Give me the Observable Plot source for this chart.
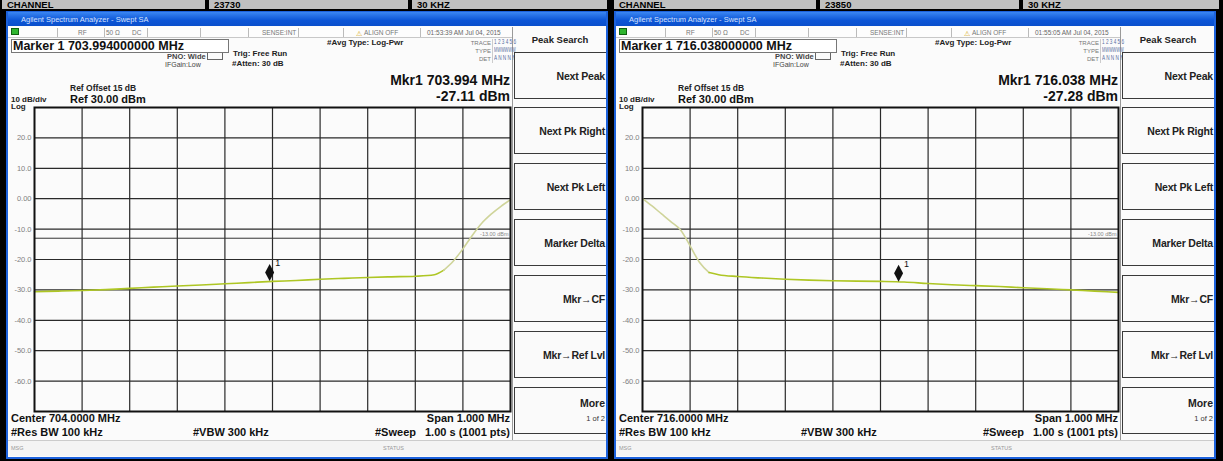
<!DOCTYPE html>
<html><head><meta charset="utf-8">
<script src="https://cdn.jsdelivr.net/npm/d3@7"></script>
<script src="https://cdn.jsdelivr.net/npm/@observablehq/plot@0.6"></script>
<style>
html,body{margin:0;padding:0;background:#000;}
#root{position:relative;width:1223px;height:461px;overflow:hidden;background:#000;font-family:'Liberation Sans',Arial,sans-serif;}
#root div{box-sizing:border-box;}
svg.plot, figure{margin:0;}
</style>
</head><body><div id="root"></div>
<script>
// ---------------- DATA ----------------
const headerCells = ["CHANNEL", "23730", "30 KHZ", "CHANNEL", "23850", "30 KHZ"];

const yTicks = [20, 10, 0, -10, -20, -30, -40, -50, -60];
const yTickLabels = ["20.0", "10.0", "0.00", "-10.0", "-20.0", "-30.0", "-40.0", "-50.0", "-60.0"];
const displayLine = -13;
const displayLineLabel = "-13.00 dBm";

// Left screen trace (MHz, dBm)
const leftFreq  = [703.50, 703.55, 703.60, 703.65, 703.70, 703.75, 703.80, 703.85, 703.90, 703.95, 704.00, 704.05, 704.10, 704.15, 704.20, 704.25, 704.30, 704.34, 704.36, 704.38, 704.40, 704.42, 704.44, 704.46, 704.48, 704.50];
const leftLevel = [-30.6, -30.4, -30.2, -29.9, -29.5, -29.1, -28.7, -28.4, -28.0, -27.6, -27.2, -26.9, -26.5, -26.2, -25.9, -25.7, -25.5, -25.0, -23.5, -20.5, -16.5, -12.0, -8.0, -5.0, -2.5, -0.3];

// Right screen trace (MHz, dBm)
const rightFreq  = [715.50, 715.52, 715.54, 715.56, 715.58, 715.60, 715.62, 715.64, 715.66, 715.70, 715.75, 715.80, 715.85, 715.90, 715.95, 716.00, 716.05, 716.10, 716.15, 716.20, 716.25, 716.30, 716.35, 716.40, 716.45, 716.50];
const rightLevel = [0.0, -2.4, -5.0, -7.6, -10.3, -15.5, -21.0, -24.3, -25.0, -25.6, -26.1, -26.5, -26.8, -27.0, -27.1, -27.2, -27.4, -27.9, -28.3, -28.6, -28.9, -29.3, -29.6, -30.0, -30.4, -30.8];

const screens = [
  {dx: 0, center: 704.0, freq: leftFreq, level: leftLevel,
   markerFreq: 703.994, markerLevel: -27.11,
   markerLine: "Marker 1 703.994000000 MHz", mkr: "Mkr1 703.994 MHz", mkrVal: "-27.11 dBm",
   centerText: "Center 704.0000 MHz", time: "01:53:39 AM Jul 04, 2015"},
  {dx: 608, center: 716.0, freq: rightFreq, level: rightLevel,
   markerFreq: 716.038, markerLevel: -27.28,
   markerLine: "Marker 1 716.038000000 MHz", mkr: "Mkr1 716.038 MHz", mkrVal: "-27.28 dBm",
   centerText: "Center 716.0000 MHz", time: "01:55:05 AM Jul 04, 2015"}
];

const softkeyTitle = "Peak Search";
const softkeys = ["Next Peak", "Next Pk Right", "Next Pk Left", "Marker Delta", "Mkr\u2192CF", "Mkr\u2192Ref Lvl", "More"];

// ---------------- helpers ----------------
const root = document.getElementById("root");
function box(x, y, w, h, css) {
  const d = document.createElement("div");
  d.style.cssText = `position:absolute;left:${x}px;top:${y}px;width:${w}px;height:${h}px;${css||""}`;
  root.appendChild(d);
  return d;
}
function txt(x, base, s, o = {}) {
  const size = o.size || 8;
  const d = document.createElement("div");
  d.textContent = s;
  let css = `position:absolute;white-space:nowrap;font-family:'Liberation Sans',Arial,sans-serif;font-size:${size}px;line-height:${size}px;font-weight:${o.bold ? "bold" : "normal"};color:${o.color || "#111"};top:${base - 0.86 * size}px;`;
  if (o.anchor === "end") css += `left:${x}px;transform:translateX(-100%);`;
  else if (o.anchor === "middle") css += `left:${x}px;transform:translateX(-50%);`;
  else css += `left:${x}px;`;
  css += o.css || "";
  d.style.cssText = css;
  (o.parent || root).appendChild(d);
  return d;
}

// ---------------- header cells ----------------
const cellX = [[2, 205], [209, 408], [412, 607], [614, 816], [820, 1019], [1023, 1219]];
cellX.forEach(([a, b], i) => {
  box(a, 0, b - a, 9, "background:#c0c0c0;");
  txt(a + 5, 8, headerCells[i], {size: 9.5, bold: true, color: "#000"});
});

// ---------------- tall diamond symbol ----------------
const tallDiamond = {
  draw(ctx, size) {
    const r = Math.sqrt(size / Math.PI);
    const w = r * 0.53;
    ctx.moveTo(0, -r); ctx.lineTo(w, 0); ctx.lineTo(0, r); ctx.lineTo(-w, 0); ctx.closePath();
  }
};

// ---------------- screens ----------------
const squeeze = "transform:scaleX(0.72);transform-origin:left center;";
screens.forEach(S => {
  const dx = S.dx;
  // frame
  box(6 + dx, 11, 602, 448, "background:#1d62dc;");
  box(8 + dx, 12, 598, 14, "background:linear-gradient(#3a86f2,#0c55d6 60%,#0a4fcc);");
  txt(21 + dx, 22, "Agilent Spectrum Analyzer - Swept SA", {size: 7.5, color: "#d6e2ff"});
  box(8 + dx, 26, 598, 431, "background:#fbfbfb;");
  // status row
  box(8 + dx, 27, 504, 11, "background:#fdfdfd;border-bottom:1px solid #c8c8c8;");
  box(11 + dx, 28, 8, 7, "background:#2fb52f;border:1px solid #106010;");
  [57, 104, 147, 200, 248, 298, 343, 420].forEach(x => box(x + dx, 28, 1, 9, "background:#bbb;"));
  txt(78 + dx, 36, "RF", {size: 6.5, color: "#777"});
  txt(106 + dx, 36, "50 \u03A9", {size: 6.5, color: "#777"});
  txt(132 + dx, 36, "DC", {size: 6.5, color: "#777"});
  txt(262 + dx, 36, "SENSE:INT", {size: 6.5, color: "#777"});
  txt(356 + dx, 36, "\u26A0", {size: 7, color: "#d4a000"});
  txt(364 + dx, 36, "ALIGN OFF", {size: 6.5, color: "#777"});
  txt(427 + dx, 36, S.time, {size: 6.5, color: "#666"});
  box(512 + dx, 27, 1, 413, "background:#999;");
  // marker line
  box(11 + dx, 39, 218, 14, "border:1px solid #777;background:#fff;");
  txt(13 + dx, 50.5, S.markerLine, {size: 12.5, bold: true});
  txt(167 + dx, 59, "PNO: Wide", {size: 7.5, bold: true, color: "#444"});
  box(207 + dx, 53, 16, 7, "border:1px solid #666;border-top:none;");
  txt(165 + dx, 67, "IFGain:Low", {size: 7, color: "#444"});
  txt(233 + dx, 57, "Trig: Free Run", {size: 8, bold: true, color: "#222"});
  txt(232 + dx, 67, "#Atten: 30 dB", {size: 8, bold: true, color: "#222"});
  txt(327 + dx, 46, "#Avg Type: Log-Pwr", {size: 8, bold: true, color: "#222"});
  txt(491 + dx, 45, "TRACE", {size: 6, color: "#777", anchor: "end"});
  txt(494 + dx, 45, "1 2 3 4 5 6", {size: 6.5, color: "#5a6fa0", css: squeeze});
  txt(491 + dx, 53, "TYPE", {size: 6, color: "#777", anchor: "end"});
  txt(494 + dx, 53, "MWWWWW", {size: 6.5, color: "#5a6fa0", css: "transform:scaleX(0.6);transform-origin:left center;"});
  txt(491 + dx, 61, "DET", {size: 6, color: "#777", anchor: "end"});
  txt(494 + dx, 61, "A N N N N N", {size: 6.5, color: "#5a6fa0", css: squeeze});
  box(492 + dx, 39, 1, 24, "background:#ccc;");
  txt(510 + dx, 85, S.mkr, {size: 14, bold: true, anchor: "end"});
  txt(510 + dx, 101, S.mkrVal, {size: 14, bold: true, anchor: "end"});
  txt(70 + dx, 91, "Ref Offset 15 dB", {size: 8.5, bold: true, color: "#222"});
  txt(70 + dx, 103, "Ref 30.00 dBm", {size: 11, bold: true});
  txt(11 + dx, 103, "10 dB/div", {size: 8, bold: true, color: "#222"});
  txt(11 + dx, 110, "Log", {size: 8, bold: true, color: "#222"});
  // bottom texts
  txt(11 + dx, 422, S.centerText, {size: 11, bold: true});
  txt(11 + dx, 436, "#Res BW 100 kHz", {size: 11, bold: true});
  txt(193 + dx, 436, "#VBW 300 kHz", {size: 11, bold: true});
  txt(510 + dx, 422, "Span 1.000 MHz", {size: 11, bold: true, anchor: "end"});
  txt(375 + dx, 436, "#Sweep", {size: 11, bold: true});
  txt(510 + dx, 436, "1.00 s (1001 pts)", {size: 11, bold: true, anchor: "end"});
  box(8 + dx, 440, 598, 16, "background:#f4f4f4;border-top:1px solid #ccc;");
  txt(11 + dx, 451, "MSG", {size: 5.5, color: "#999"});
  txt(383 + dx, 451, "STATUS", {size: 5.5, color: "#999"});
  // softkeys
  txt(560 + dx, 43, softkeyTitle, {size: 9.5, bold: true, anchor: "middle", color: "#222"});
  const keyTop = [52, 107, 163, 219, 275, 331, 387];
  keyTop.forEach((y, i) => {
    box(514 + dx, y, 92, 47, "border:1.5px solid #3a3a3a;border-right:none;background:#fafafa;");
    if (i < 6) txt(605 + dx, y + 28, softkeys[i], {size: 10.5, bold: true, anchor: "end", color: "#222", css: "letter-spacing:-0.2px;"});
  });
  txt(605 + dx, 407, softkeys[6], {size: 10.5, bold: true, anchor: "end", color: "#222"});
  txt(605 + dx, 421, "1 of 2", {size: 7.5, anchor: "end", color: "#333"});

  // ---------------- plot ----------------
  const data = S.freq.map((f, i) => ({f, v: S.level[i]}));
  const xdom = [S.center - 0.5, S.center + 0.5];
  const xgrid = d3.range(1, 10).map(i => S.center - 0.5 + i * 0.1);
  const marker = [{f: S.markerFreq, v: S.markerLevel}];
  const chart = Plot.plot({
    width: 508, height: 308,
    marginLeft: 30, marginRight: 2, marginTop: 2, marginBottom: 2,
    x: {domain: xdom, axis: null},
    y: {domain: [-70, 30], axis: null},
    style: {background: "transparent", overflow: "visible", color: "#808080", fontFamily: "'Liberation Sans',Arial,sans-serif"},
    marks: [
      Plot.ruleX(xgrid, {stroke: "#2a2a2a", strokeWidth: 1.2}),
      Plot.ruleY(yTicks, {stroke: "#2a2a2a", strokeWidth: 1.2}),
      Plot.ruleY([displayLine], {stroke: "#333", strokeWidth: 1}),
      Plot.text([displayLine], {x: xdom[1], y: d => d, text: () => displayLineLabel, textAnchor: "end", dx: -2, dy: -4, fontSize: 5.5, fill: "#888"}),
      Plot.axisY(yTicks, {tickSize: 0, tickPadding: 3, fontSize: 7.5, label: null, tickFormat: d => yTickLabels[yTicks.indexOf(d)]}),
      Plot.line(data, {x: "f", y: "v", z: null, stroke: d => d.v > -24 ? "#cfd49a" : "#aec624", strokeWidth: 1.6, curve: "monotone-x"}),
      Plot.frame({stroke: "#111", strokeWidth: 2}),
      Plot.dot(marker, {x: "f", y: "v", symbol: tallDiamond, r: 8.5, fill: "#111", stroke: "none", dy: -8.5}),
      Plot.text(marker, {x: "f", y: "v", text: () => "1", dx: 8, dy: -18, fontSize: 9, fill: "#111"})
    ]
  });
  const holder = box(4 + dx, 105, 508, 308, "");
  holder.appendChild(chart);
});
</script></body></html>
